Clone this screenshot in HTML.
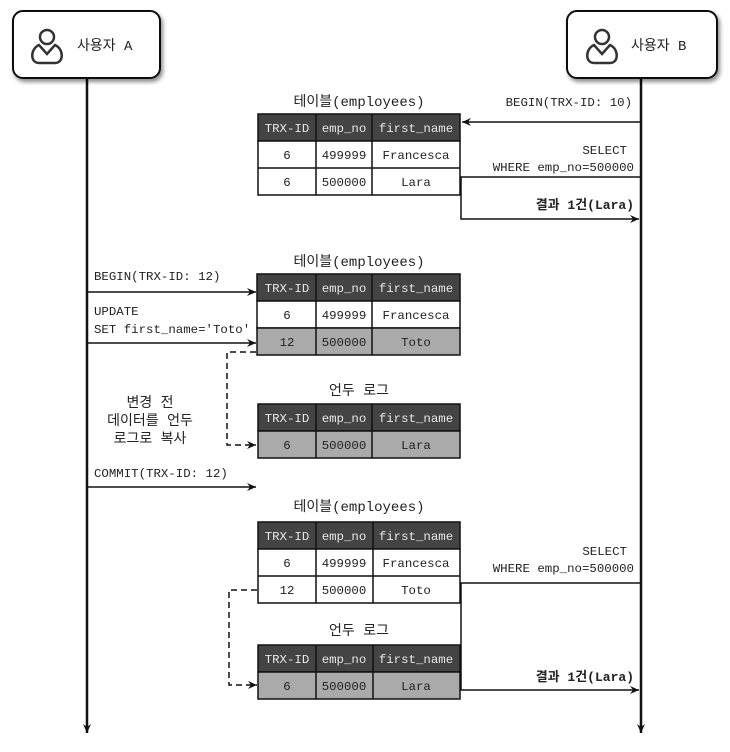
<!DOCTYPE html>
<html><head><meta charset="utf-8"><style>
body{margin:0;background:#fff}
svg text{font-family:"Liberation Mono","Noto Sans CJK KR",monospace;font-size:12.4px;fill:#222}
.k{font-family:"Liberation Mono","Noto Sans CJK KR",monospace}
.h{fill:#e8e8e8}
</style></head><body>
<svg width="730" height="747" viewBox="0 0 730 747" xmlns="http://www.w3.org/2000/svg">
<defs>
<marker id="a" markerWidth="10" markerHeight="10" refX="9" refY="5" orient="auto" markerUnits="userSpaceOnUse"><path d="M0,1 L9,5 L0,9 L3,5 Z" fill="#111"/></marker>
<filter id="sh"><feDropShadow dx="2" dy="3" stdDeviation="2" flood-opacity="0.45"/></filter>
<g id="person" fill="none" stroke="#333" stroke-width="2.5">
<circle cx="0" cy="-9" r="7"/>
<path d="M-8,-1 C-17,3 -17,17 -8,17 L8,17 C17,17 17,3 8,-1 L0,8 Z"/>
</g>
</defs>
<line x1="87" y1="75" x2="87" y2="733" stroke="#111" stroke-width="2.5" marker-end="url(#a)"/>
<line x1="641" y1="75" x2="641" y2="733" stroke="#111" stroke-width="2.5" marker-end="url(#a)"/>
<rect x="13" y="11" width="147" height="67" rx="10" fill="#fff" stroke="#111" stroke-width="2" filter="url(#sh)"/>
<use href="#person" x="47" y="46"/>
<text x="77" y="50" class="k" style="font-size:14px">사용자 A</text>
<rect x="567" y="11" width="150" height="67" rx="10" fill="#fff" stroke="#111" stroke-width="2" filter="url(#sh)"/>
<use href="#person" x="602" y="46"/>
<text x="631" y="50" class="k" style="font-size:14px">사용자 B</text>

<g stroke="#111" stroke-width="1.5" fill="none">
<line x1="641" y1="122" x2="462" y2="122" marker-end="url(#a)"/>
<polyline points="641,177 461,177 461,219 639,219" marker-end="url(#a)"/>
<line x1="87" y1="292" x2="256" y2="292" marker-end="url(#a)"/>
<line x1="87" y1="343" x2="256" y2="343" marker-end="url(#a)"/>
<line x1="87" y1="487" x2="256" y2="487" marker-end="url(#a)"/>
<polyline points="641,583 461,583 461,690 639,690" marker-end="url(#a)"/>
<polyline points="256,352 227,352 227,445 256,445" stroke-dasharray="6,4" marker-end="url(#a)"/>
<polyline points="257,590 229,590 229,685 257,685" stroke-dasharray="6,4" marker-end="url(#a)"/>
</g>

<text x="632" y="106" text-anchor="end">BEGIN(TRX-ID: 10)</text>
<text x="627" y="154" text-anchor="end">SELECT</text>
<text x="634" y="171" text-anchor="end">WHERE emp_no=500000</text>
<text x="634" y="209" text-anchor="end" style="font-weight:bold;font-size:13px">결과 1건(Lara)</text>
<text x="94" y="280">BEGIN(TRX-ID: 12)</text>
<text x="94" y="315">UPDATE</text>
<text x="94" y="333">SET first_name='Toto'</text>
<text x="150" y="407" text-anchor="middle" style="font-size:14px">변경 전</text>
<text x="150" y="425" text-anchor="middle" style="font-size:14px">데이터를 언두</text>
<text x="150" y="443" text-anchor="middle" style="font-size:14px">로그로 복사</text>
<text x="94" y="477">COMMIT(TRX-ID: 12)</text>
<text x="627" y="555" text-anchor="end">SELECT</text>
<text x="634" y="572" text-anchor="end">WHERE emp_no=500000</text>
<text x="634" y="681" text-anchor="end" style="font-weight:bold;font-size:13px">결과 1건(Lara)</text>

<text x="359" y="106" text-anchor="middle" style="font-size:14px">테이블(employees)</text>
<rect x="258" y="114" width="202" height="27" fill="#444" stroke="#111" stroke-width="1.5"/>
<rect x="258" y="141" width="202" height="54" fill="#fff" stroke="#111" stroke-width="1.5"/>
<line x1="258" y1="168" x2="460" y2="168" stroke="#111" stroke-width="1.5"/>
<line x1="316" y1="114" x2="316" y2="195" stroke="#111" stroke-width="1.5"/>
<line x1="372" y1="114" x2="372" y2="195" stroke="#111" stroke-width="1.5"/>
<text x="287" y="132" text-anchor="middle" class="h">TRX-ID</text><text x="344" y="132" text-anchor="middle" class="h">emp_no</text><text x="416" y="132" text-anchor="middle" class="h">first_name</text>
<text x="287" y="159" text-anchor="middle">6</text><text x="344" y="159" text-anchor="middle">499999</text><text x="416" y="159" text-anchor="middle">Francesca</text>
<text x="287" y="186" text-anchor="middle">6</text><text x="344" y="186" text-anchor="middle">500000</text><text x="416" y="186" text-anchor="middle">Lara</text>

<text x="359" y="266" text-anchor="middle" style="font-size:14px">테이블(employees)</text>
<rect x="257" y="274" width="203" height="27" fill="#444" stroke="#111" stroke-width="1.5"/>
<rect x="257" y="301" width="203" height="27" fill="#fff" stroke="#111" stroke-width="1.5"/>
<rect x="257" y="328" width="203" height="27" fill="#aaa" stroke="#111" stroke-width="1.5"/>
<line x1="316" y1="274" x2="316" y2="355" stroke="#111" stroke-width="1.5"/>
<line x1="372" y1="274" x2="372" y2="355" stroke="#111" stroke-width="1.5"/>
<text x="287" y="292" text-anchor="middle" class="h">TRX-ID</text><text x="344" y="292" text-anchor="middle" class="h">emp_no</text><text x="416" y="292" text-anchor="middle" class="h">first_name</text>
<text x="287" y="319" text-anchor="middle">6</text><text x="344" y="319" text-anchor="middle">499999</text><text x="416" y="319" text-anchor="middle">Francesca</text>
<text x="287" y="346" text-anchor="middle">12</text><text x="344" y="346" text-anchor="middle">500000</text><text x="416" y="346" text-anchor="middle">Toto</text>

<text x="359" y="395" text-anchor="middle" style="font-size:14px">언두 로그</text>
<rect x="258" y="404" width="202" height="27" fill="#444" stroke="#111" stroke-width="1.5"/>
<rect x="258" y="431" width="202" height="27" fill="#aaa" stroke="#111" stroke-width="1.5"/>
<line x1="316" y1="404" x2="316" y2="458" stroke="#111" stroke-width="1.5"/>
<line x1="372" y1="404" x2="372" y2="458" stroke="#111" stroke-width="1.5"/>
<text x="287" y="422" text-anchor="middle" class="h">TRX-ID</text><text x="344" y="422" text-anchor="middle" class="h">emp_no</text><text x="416" y="422" text-anchor="middle" class="h">first_name</text>
<text x="287" y="449" text-anchor="middle">6</text><text x="344" y="449" text-anchor="middle">500000</text><text x="416" y="449" text-anchor="middle">Lara</text>

<text x="359" y="511" text-anchor="middle" style="font-size:14px">테이블(employees)</text>
<rect x="258" y="522" width="202" height="27" fill="#444" stroke="#111" stroke-width="1.5"/>
<rect x="258" y="549" width="202" height="54" fill="#fff" stroke="#111" stroke-width="1.5"/>
<line x1="258" y1="576" x2="460" y2="576" stroke="#111" stroke-width="1.5"/>
<line x1="316" y1="522" x2="316" y2="603" stroke="#111" stroke-width="1.5"/>
<line x1="373" y1="522" x2="373" y2="603" stroke="#111" stroke-width="1.5"/>
<text x="287" y="540" text-anchor="middle" class="h">TRX-ID</text><text x="344" y="540" text-anchor="middle" class="h">emp_no</text><text x="416" y="540" text-anchor="middle" class="h">first_name</text>
<text x="287" y="567" text-anchor="middle">6</text><text x="344" y="567" text-anchor="middle">499999</text><text x="416" y="567" text-anchor="middle">Francesca</text>
<text x="287" y="594" text-anchor="middle">12</text><text x="344" y="594" text-anchor="middle">500000</text><text x="416" y="594" text-anchor="middle">Toto</text>

<text x="359" y="635" text-anchor="middle" style="font-size:14px">언두 로그</text>
<rect x="258" y="645" width="202" height="27" fill="#444" stroke="#111" stroke-width="1.5"/>
<rect x="258" y="672" width="202" height="27" fill="#aaa" stroke="#111" stroke-width="1.5"/>
<line x1="316" y1="645" x2="316" y2="699" stroke="#111" stroke-width="1.5"/>
<line x1="373" y1="645" x2="373" y2="699" stroke="#111" stroke-width="1.5"/>
<text x="287" y="663" text-anchor="middle" class="h">TRX-ID</text><text x="344" y="663" text-anchor="middle" class="h">emp_no</text><text x="416" y="663" text-anchor="middle" class="h">first_name</text>
<text x="287" y="690" text-anchor="middle">6</text><text x="344" y="690" text-anchor="middle">500000</text><text x="416" y="690" text-anchor="middle">Lara</text>
</svg>
</body></html>
